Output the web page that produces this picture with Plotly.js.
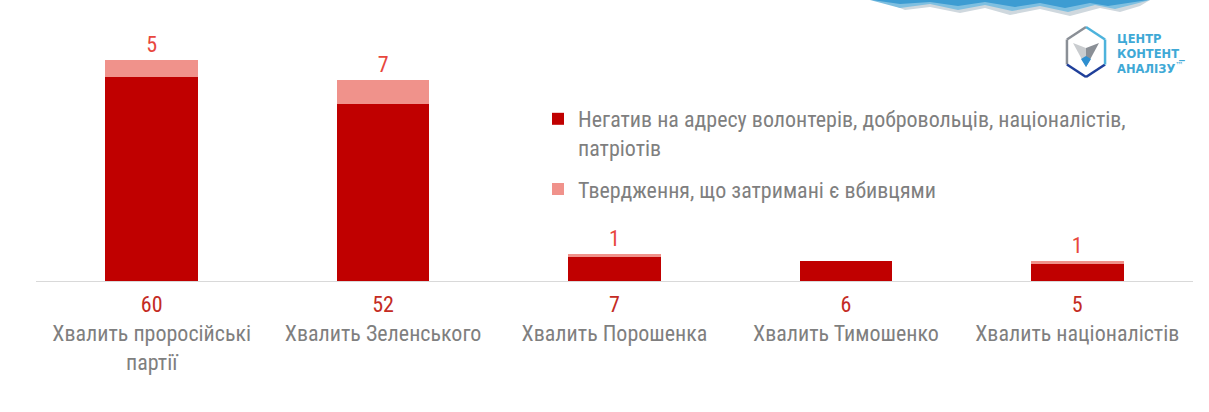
<!DOCTYPE html>
<html><head><meta charset="utf-8">
<script src="https://cdn.plot.ly/plotly-3.0.1.min.js"></script>
<style>html,body{margin:0;padding:0;background:#fff;}#chart{width:1209px;height:412px;}</style>
</head><body><div id="chart"></div>
<script>
const categories = ['Хвалить проросійські<br>партії', 'Хвалить Зеленського', 'Хвалить Порошенка', 'Хвалить Тимошенко', 'Хвалить націоналістів'];
const negativeVals = [60, 52, 7, 6, 5];
const killersVals = [5, 7, 1, 0, 1];
const seriesNames = ['Негатив на адресу волонтерів, добровольців, націоналістів,<br>патріотів', 'Твердження, що затримані є вбивцями'];

const FONT = '"Liberation Sans Narrow", "Roboto Condensed", "DejaVu Sans Condensed", sans-serif';
const W = 1209, H = 412, ML = 36, MR = 16, MT = 9, MB = 131;
const PW = W - ML - MR, PH = H - MT - MB;
const px = x => (x - ML) / PW;
const py = y => 1 - (y - MT) / PH;

const ticktext = categories.map((c, i) => `<span style="color:#c42b23">${negativeVals[i]}</span><br>${c}`);
const idx = categories.map((c, i) => i);

const traces = [
  {type: 'bar', x: idx, y: negativeVals, name: seriesNames[0], legendgroup: 'a',
   marker: {color: '#c00000'}, hoverinfo: 'skip'},
  {type: 'bar', x: idx, y: killersVals, name: seriesNames[1], legendgroup: 'b',
   marker: {color: '#f0928b'}, hoverinfo: 'skip',
   text: killersVals.map(v => String(v)), textposition: killersVals.map(v => v > 0 ? 'outside' : 'none'),
   textfont: {family: FONT, size: 22, color: '#e8473d'}, cliponaxis: false}
];

// logo decoration
const hex = [];
const cx = 1086, cy = 52, r = 25;
for (let k = 0; k < 6; k++) {
  const a = Math.PI / 180 * (90 + 60 * k);
  hex.push([cx + r * 0.88 * Math.cos(a), cy - r * Math.sin(a)]);
}
function seg(p, q, color) {
  return {type: 'line', xref: 'paper', yref: 'paper', x0: px(p[0]), y0: py(p[1]), x1: px(q[0]), y1: py(q[1]), line: {color: color, width: 2.5}};
}
function poly(pts, color) {
  return {type: 'path', xref: 'paper', yref: 'paper', fillcolor: color, line: {width: 0},
    path: 'M' + pts.map(p => px(p[0]) + ',' + py(p[1])).join('L') + 'Z'};
}
const shapes = [
  seg(hex[0], hex[1], '#8a8f96'), seg(hex[1], hex[2], '#8a8f96'),
  seg(hex[2], hex[3], '#1f3f9a'), seg(hex[3], hex[4], '#1f3f9a'),
  seg(hex[4], hex[5], '#4db3dc'), seg(hex[5], hex[0], '#4db3dc'),
  poly([[1073, 43], [1086, 48], [1086, 67]], '#c9cccf'),
  poly([[1099, 43], [1086, 48], [1086, 67]], '#8a8f96'),
  poly([[1081, 59], [1086, 56], [1091, 59], [1086, 67]], '#2e8fd0'),
  poly([[880, 0], [1150, 0], [1140, 6], [1120, 12], [1100, 8], [1070, 16], [1040, 9], [1010, 15], [985, 8], [960, 13], [930, 7], [905, 10]], '#cfd8de'),
  poly([[870, 0], [1150, 0], [1135, 4], [1115, 9], [1095, 5], [1068, 12], [1040, 6], [1012, 11], [985, 5], [958, 10], [930, 4], [900, 8]], '#7fbfe0'),
  poly([[872, 0], [1148, 0], [1128, 3], [1108, 6], [1090, 3], [1065, 8], [1040, 3], [1015, 7], [985, 2], [958, 6], [930, 2], [900, 4]], '#3d9cd2')
];

const annotations = [
  {xref: 'paper', yref: 'paper', x: px(1115), y: py(54), xanchor: 'left', yanchor: 'middle', showarrow: false, align: 'left',
   text: '<b>ЦЕНТР<br>КОНТЕНТ_<br>АНАЛІЗУ</b><sup>™</sup>', font: {family: '"DejaVu Sans", sans-serif', size: 11.5, color: '#3fa9d6'}}
];

const layout = {
  width: W, height: H,
  margin: {l: ML, r: MR, t: MT, b: MB},
  paper_bgcolor: '#fff', plot_bgcolor: '#fff',
  font: {family: FONT, color: '#7f7f7f'},
  barmode: 'stack', bargap: 0.6,
  showlegend: true,
  legend: {x: px(538), y: py(98), xanchor: 'left', yanchor: 'top', traceorder: 'grouped', valign: 'top',
    tracegroupgap: 10, font: {family: FONT, size: 22, color: '#7f7f7f'}, bgcolor: 'rgba(0,0,0,0)'},
  xaxis: {range: [-0.5, 4.5], tickvals: idx, ticktext: ticktext, ticks: '', showgrid: false, zeroline: false,
    showline: true, linecolor: '#d9d9d9', linewidth: 1, ticklabelstandoff: 4,
    tickfont: {family: FONT, size: 22, color: '#7f7f7f'}, fixedrange: true},
  yaxis: {range: [0, 80], visible: false, fixedrange: true},
  shapes: shapes, annotations: annotations
};
Plotly.newPlot('chart', traces, layout, {displayModeBar: false, staticPlot: true});
</script></body></html>
